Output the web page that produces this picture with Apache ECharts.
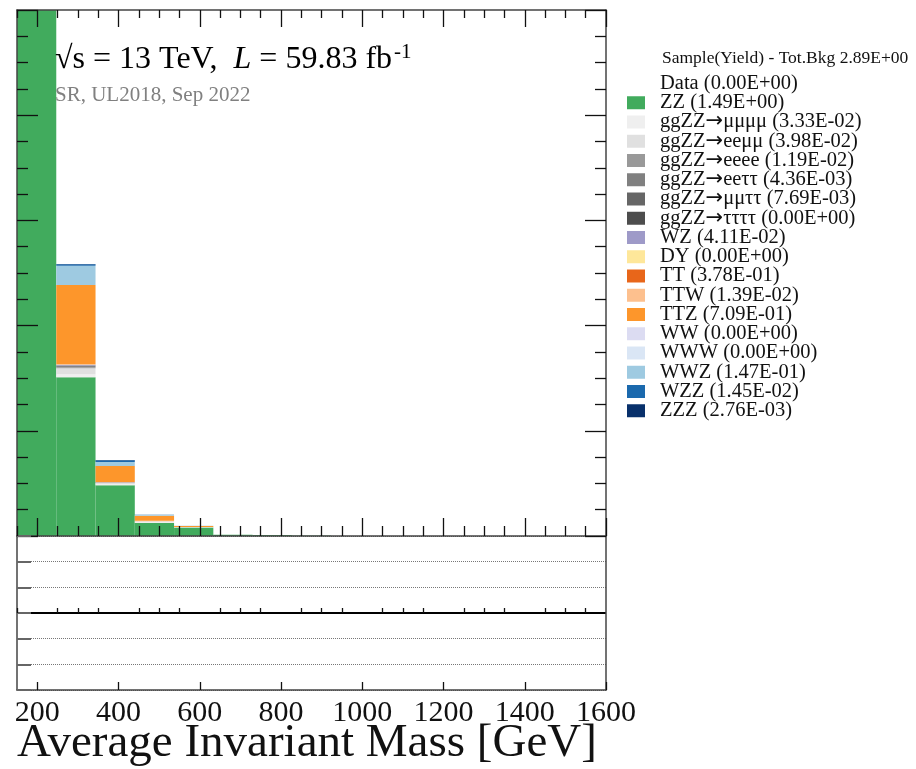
<!DOCTYPE html>
<html>
<head>
<meta charset="utf-8">
<title>Average Invariant Mass</title>
<script src="https://cdn.jsdelivr.net/npm/echarts@6/dist/echarts.min.js"></script>
<style>
  html, body { margin: 0; padding: 0; background: #fff; }
  #chart { width: 916px; height: 769px; }
</style>
</head>
<body>
<div id="chart"></div>
<script>
// 15 equal-width mass bins between 150 and 1600 GeV (bin centres)
const binCentres = [198.3, 295.0, 391.7, 488.3, 585.0, 681.7, 778.3, 875.0,
                    971.7, 1068.3, 1165.0, 1261.7, 1358.3, 1455.0, 1551.7];

// axis ticks (GeV)
const xMajorTicks = [200, 400, 600, 800, 1000, 1200, 1400, 1600];
const xMinorTicks = [150, 250, 300, 350, 450, 500, 550, 650, 700, 750, 850, 900, 950,
                     1050, 1100, 1150, 1250, 1300, 1350, 1450, 1500, 1550];
const xTitle = 'Average Invariant Mass [GeV]';

// per-bin yields for each sample
const yData        = [0, 0, 0, 0, 0, 0, 0, 0, 0, 0, 0, 0, 0, 0, 0];
const yZZ          = [1.2680, 0.1509, 0.0482, 0.0124, 0.0080, 0.0013, 0.0009, 0.0004, 0, 0, 0, 0, 0, 0, 0];
const yGgZZ4mu     = [0.0285, 0.0029, 0.0010, 0.0007, 0.0002, 0, 0, 0, 0, 0, 0, 0, 0, 0, 0];
const yGgZZ2e2mu   = [0.0314, 0.0057, 0.0012, 0.0009, 0.0003, 0, 0, 0.0003, 0, 0, 0, 0, 0, 0, 0];
const yGgZZ4e      = [0.0107, 0.0010, 0.0002, 0, 0, 0, 0, 0, 0, 0, 0, 0, 0, 0, 0];
const yGgZZ2e2tau  = [0.00386, 0.0005, 0, 0, 0, 0, 0, 0, 0, 0, 0, 0, 0, 0, 0];
const yGgZZ2mu2tau = [0.00649, 0.0010, 0.0002, 0, 0, 0, 0, 0, 0, 0, 0, 0, 0, 0, 0];
const yGgZZ4tau    = [0, 0, 0, 0, 0, 0, 0, 0, 0, 0, 0, 0, 0, 0, 0];
const yWZ          = [0.0401, 0.0008, 0.0002, 0, 0, 0, 0, 0, 0, 0, 0, 0, 0, 0, 0];
const yDY          = [0, 0, 0, 0, 0, 0, 0, 0, 0, 0, 0, 0, 0, 0, 0];
const yTT          = [0.378, 0, 0, 0, 0, 0, 0, 0, 0, 0, 0, 0, 0, 0, 0];
const yTTW         = [0.0127, 0.0005, 0.0003, 0.0004, 0, 0, 0, 0, 0, 0, 0, 0, 0, 0, 0];
const yTTZ         = [0.6126, 0.0754, 0.0152, 0.0048, 0.0010, 0, 0, 0, 0, 0, 0, 0, 0, 0, 0];
const yWW          = [0, 0, 0, 0, 0, 0, 0, 0, 0, 0, 0, 0, 0, 0, 0];
const yWWW         = [0, 0, 0, 0, 0, 0, 0, 0, 0, 0, 0, 0, 0, 0, 0];
const yWWZ         = [0.1241, 0.0181, 0.0038, 0.0008, 0.0002, 0, 0, 0, 0, 0, 0, 0, 0, 0, 0];
const yWZZ         = [0.0109, 0.0016, 0.0018, 0.0002, 0, 0, 0, 0, 0, 0, 0, 0, 0, 0, 0];
const yZZZ         = [0.00246, 0.0002, 0.0001, 0, 0, 0, 0, 0, 0, 0, 0, 0, 0, 0, 0];

// stacking order, bottom to top
const samples = [
  { name: 'ZZ',            values: yZZ,          color: '#41ab5d' },
  { name: 'ggZZ→μμμμ',     values: yGgZZ4mu,     color: '#efefef' },
  { name: 'ggZZ→eeμμ',     values: yGgZZ2e2mu,   color: '#e0e0e0' },
  { name: 'ggZZ→eeee',     values: yGgZZ4e,      color: '#999999' },
  { name: 'ggZZ→eeττ',     values: yGgZZ2e2tau,  color: '#808080' },
  { name: 'ggZZ→μμττ',     values: yGgZZ2mu2tau, color: '#666666' },
  { name: 'ggZZ→ττττ',     values: yGgZZ4tau,    color: '#4d4d4d' },
  { name: 'WZ',            values: yWZ,          color: '#9e9ac8' },
  { name: 'DY',            values: yDY,          color: '#fee79a' },
  { name: 'TT',            values: yTT,          color: '#e8661a' },
  { name: 'TTW',           values: yTTW,         color: '#fdc08e' },
  { name: 'TTZ',           values: yTTZ,         color: '#fd962b' },
  { name: 'WW',            values: yWW,          color: '#dcdcf2' },
  { name: 'WWW',           values: yWWW,         color: '#dae6f5' },
  { name: 'WWZ',           values: yWWZ,         color: '#9ecae1' },
  { name: 'WZZ',           values: yWZZ,         color: '#1b69ad' },
  { name: 'ZZZ',           values: yZZZ,         color: '#08306b' }
];

const FONT = "'Liberation Serif', 'Times New Roman', Times, serif";

function sci(v) {
  const parts = v.toExponential(2).split('e');
  const e = parseInt(parts[1], 10);
  return parts[0] + 'E' + (e < 0 ? '-' : '+') + String(Math.abs(e)).padStart(2, '0');
}
const sum = a => a.reduce((s, v) => s + v, 0);

const yieldText = { Data: sci(sum(yData)) };
let totalBkg = 0;
samples.forEach(s => { const t = sum(s.values); yieldText[s.name] = sci(t); totalBkg += t; });

const chart = echarts.init(document.getElementById('chart'), null, { renderer: 'canvas' });

const frameLine = { show: true, lineStyle: { color: '#444', width: 1.5 } };
const tickStyle = { color: '#111', width: 1.3 };

function valueX(grid, position, ticks, length, withLine, extra) {
  return Object.assign({
    type: 'value', gridIndex: grid, position: position, min: 150, max: 1600, z: 5,
    axisLine: withLine ? Object.assign({ onZero: false }, frameLine) : { show: false },
    axisTick: { show: true, inside: true, length: length, customValues: ticks, lineStyle: tickStyle },
    axisLabel: { show: false },
    splitLine: { show: false }
  }, extra || {});
}

const series = samples.map(s => ({
  name: s.name,
  type: 'bar',
  stack: 'bkg',
  xAxisIndex: 0,
  yAxisIndex: 0,
  barCategoryGap: '0%',
  clip: true,
  itemStyle: { color: s.color },
  emphasis: { disabled: true },
  data: s.values
}));

series.unshift({
  name: 'Data', type: 'scatter', xAxisIndex: 0, yAxisIndex: 0,
  symbol: 'circle', symbolSize: 0, itemStyle: { color: '#000' }, data: yData
});

// lower panel: reference line at zero
series.push({
  name: 'pull', type: 'line', xAxisIndex: 5, yAxisIndex: 2, data: [],
  markLine: {
    silent: true, symbol: ['none', 'none'], animation: false,
    label: { show: false },
    lineStyle: { color: '#000', width: 2, type: 'solid' },
    data: [{ yAxis: 0 }]
  }
});

const option = {
  animation: false,
  backgroundColor: '#fff',
  grid: [
    { left: 17, top: 10, width: 589, height: 526, outerBoundsMode: 'none' },
    { left: 17, top: 536, width: 589, height: 154, outerBoundsMode: 'none' }
  ],
  xAxis: [
    { type: 'category', gridIndex: 0, data: binCentres, show: false, boundaryGap: true },
    valueX(0, 'bottom', xMajorTicks, 18, true),
    valueX(0, 'bottom', xMinorTicks, 10, false),
    valueX(0, 'top', xMajorTicks, 17, true),
    valueX(0, 'top', xMinorTicks, 8, false),
    valueX(1, 'bottom', xMajorTicks, 8, true, {
      axisLabel: {
        show: true, customValues: xMajorTicks, color: '#111', fontSize: 30,
        fontFamily: FONT, margin: 8, formatter: v => String(v)
      }
    }),
    valueX(1, 'bottom', xMinorTicks, 5, false)
  ],
  yAxis: [
    {
      type: 'value', gridIndex: 0, position: 'left', min: 0, max: 0.5, interval: 0.1, z: 5,
      axisLine: Object.assign({ onZero: false }, frameLine),
      axisTick: { show: true, inside: true, length: 21, lineStyle: tickStyle },
      minorTick: { show: true, splitNumber: 4, length: 11, lineStyle: tickStyle },
      axisLabel: { show: false }, splitLine: { show: false }
    },
    {
      type: 'value', gridIndex: 0, position: 'right', min: 0, max: 0.5, interval: 0.1, z: 5,
      axisLine: Object.assign({ onZero: false }, frameLine),
      axisTick: { show: true, inside: true, length: 21, lineStyle: tickStyle },
      minorTick: { show: true, splitNumber: 4, length: 11, lineStyle: tickStyle },
      axisLabel: { show: false }, splitLine: { show: false }
    },
    {
      type: 'value', gridIndex: 1, position: 'left', min: -3, max: 3, interval: 1, z: 5,
      axisLine: Object.assign({ onZero: false }, frameLine),
      axisTick: { show: true, inside: true, length: 14, lineStyle: { color: '#666', width: 2 } },
      axisLabel: { show: false },
      splitLine: { show: true, lineStyle: { color: '#777', width: 1, type: 'dotted' } }
    },
    {
      type: 'value', gridIndex: 1, position: 'right', min: -3, max: 3, interval: 1, z: 5,
      axisLine: Object.assign({ onZero: false }, frameLine),
      axisTick: { show: false }, axisLabel: { show: false }, splitLine: { show: false }
    }
  ],
  legend: {
    orient: 'vertical',
    left: 622,
    top: 68,
    itemWidth: 18,
    itemHeight: 13,
    itemGap: -1.75,
    selectedMode: false,
    icon: 'rect',
    data: [{ name: 'Data', itemStyle: { opacity: 0 } }].concat(samples.map(s => ({ name: s.name }))),
    formatter: name => name.replace('→', '{ar|→}') + ' (' + yieldText[name] + ')',
    textStyle: {
      fontFamily: FONT, fontSize: 20.5, color: '#111', lineHeight: 19.3, padding: [0, 0, 0, 10],
      rich: { ar: { fontFamily: "'DejaVu Sans', sans-serif", fontSize: 21, color: '#111', lineHeight: 19.3 } }
    }
  },
  graphic: [
    {
      type: 'text', left: 662, top: 49, z: 10,
      style: {
        text: 'Sample(Yield) - Tot.Bkg ' + sci(totalBkg),
        font: '17.5px ' + FONT, fill: '#111'
      }
    },
    {
      type: 'text', x: 55, y: 60, z: 10,
      style: {
        text: '{a|√s = 13 TeV,  }{i|L}{a| = 59.83 fb}{s|-1}',
        verticalAlign: 'middle',
        rich: {
          a: { fontFamily: FONT, fontSize: 32, fill: '#000' },
          i: { fontFamily: FONT, fontSize: 32, fontStyle: 'italic', fill: '#000' },
          s: { fontFamily: FONT, fontSize: 21, fill: '#000', padding: [0, 0, 16, 2] }
        }
      }
    },
    {
      type: 'text', x: 55, y: 95, z: 10,
      style: {
        text: 'SR, UL2018, Sep 2022',
        verticalAlign: 'middle',
        font: '21px ' + FONT, fill: '#808080'
      }
    },
    {
      // axis title under the lower panel
      type: 'text', x: 17, y: 744, z: 10,
      style: {
        text: xTitle,
        verticalAlign: 'middle',
        font: '47px ' + FONT, fill: '#111'
      }
    }
  ],
  series: series
};

chart.setOption(option);
</script>
</body>
</html>
